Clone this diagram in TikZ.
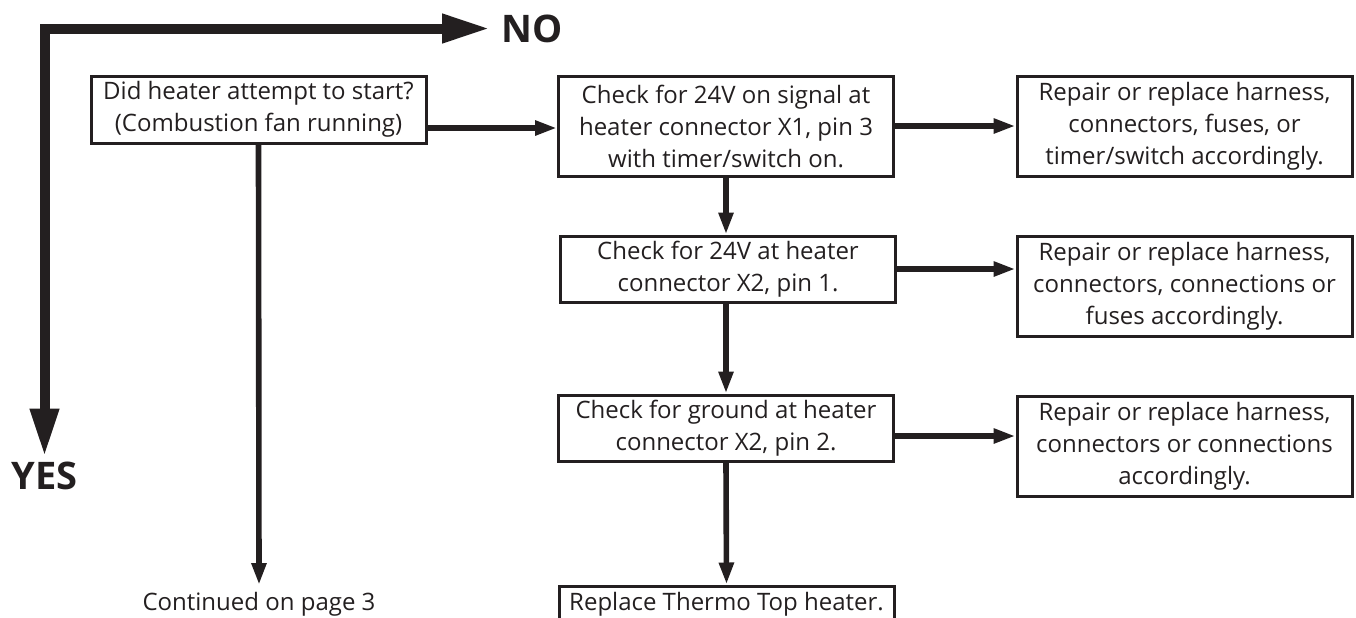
\documentclass[tikz,border=0pt]{standalone}
\usepackage{fontspec}
\setmainfont{Open Sans}
\usetikzlibrary{arrows.meta,positioning}
\definecolor{ink}{RGB}{35,31,32}
\tikzset{
  stepbox/.style={draw=ink,line width=1.5pt,align=center,inner sep=0pt,text=ink,
    minimum width=167.5pt,font=\fontsize{12}{16}\selectfont},
  flow/.style={draw=ink,line width=2.8pt,-{Triangle[length=11pt,width=7pt]}},
  key/.style={draw=ink,line width=5pt,line join=miter,
    {Triangle[length=24pt,width=13.5pt]}-{Triangle[length=24pt,width=13.5pt]}},
  answer/.style={inner sep=0pt,text=ink,font=\fontsize{19}{22}\selectfont\bfseries},
  note/.style={inner sep=0pt,text=ink,font=\fontsize{12}{16}\selectfont},
}
\begin{document}
\begin{tikzpicture}[x=0.5pt,y=-0.5pt]
  \useasboundingbox (0,0) rectangle (1356,617);
  \clip (0,0) rectangle (1356,617);
  % yes / no key
  \node[answer,anchor=west] (no) at (501,28.5) {NO};
  \node[answer] (yes) at (44.5,476) {YES};
  \draw[key] ([yshift=2.5pt]yes.north) |- ([xshift=-5.5pt]no.west);
  % checks
  \node[stepbox,minimum height=33.5pt] (start) at (258.5,109.5)
    {Did heater attempt to start?\\(Combustion fan running)};
  \node[stepbox,minimum height=50pt] (sig) at (726,126)
    {Check for 24V on signal at\\heater connector X1, pin 3\\with timer/switch on.};
  \node[stepbox,minimum height=33pt] (pwr) at (728,269)
    {Check for 24V at heater\\connector X2, pin 1.};
  \node[stepbox,minimum height=33pt] (gnd) at (726,428)
    {Check for ground at heater\\connector X2, pin 2.};
  \node[stepbox,minimum height=18pt] (repl) at (726.5,604)
    {Replace Thermo Top heater.};
  % repairs
  \node[stepbox,minimum height=50pt] (fix1) at (1184.5,126)
    {Repair or replace harness,\\connectors, fuses, or\\timer/switch accordingly.};
  \node[stepbox,minimum height=50pt] (fix2) at (1184.5,286)
    {Repair or replace harness,\\connectors, connections or\\fuses accordingly.};
  \node[stepbox,minimum height=50pt] (fix3) at (1184.5,446)
    {Repair or replace harness,\\connectors or connections\\accordingly.};
  \node[note,anchor=north] (cont) at (259,592) {Continued on page 3};
  % connectors
  \draw[flow] ([yshift=-9.25pt]start.east) coordinate (s1) -- (s1 -| sig.west);
  \draw[flow] (start.south) -- ([yshift=3.5pt]cont.north);
  \draw[flow] (sig.east) -- (fix1.west);
  \draw[flow] (sig.south) -- (sig.south |- pwr.north);
  \draw[flow] (pwr.east) -- (pwr.east -| fix2.west);
  \draw[flow] (pwr.south -| gnd.north) -- (gnd.north);
  \draw[flow] ([yshift=-4pt]gnd.east) coordinate (g1) -- (g1 -| fix3.west);
  \draw[flow] (gnd.south) -- (repl.north);
\end{tikzpicture}
\end{document}
